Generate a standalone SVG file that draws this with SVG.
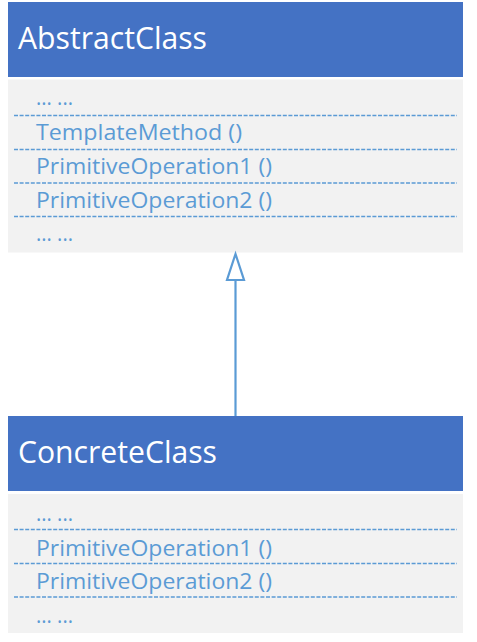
<svg xmlns="http://www.w3.org/2000/svg" width="477" height="642" viewBox="0 0 477 642">
<style>
.hdr{fill:#4472C4}
.body{fill:#F2F2F2}
.title{font-family:"Open Sans","Noto Sans",sans-serif;font-size:30.5px;fill:#FFFFFF}
.item{font-family:"Open Sans","Noto Sans",sans-serif;font-size:21.5px;fill:#5B9BD5}
.sep{stroke:#5B9BD5;stroke-width:1.3;stroke-dasharray:4 1.6;fill:none}
.conn{stroke:#5B9BD5;stroke-width:2.2;fill:none}
</style>
<rect width="477" height="642" fill="#FFFFFF"/>
<g id="AbstractClass">
<rect class="hdr" x="8" y="2" width="455" height="75"/>
<rect class="body" x="8" y="79.5" width="455" height="173"/>
<text class="title" x="18" y="49" textLength="189" lengthAdjust="spacingAndGlyphs">AbstractClass</text>
<text class="item" x="36" y="105" textLength="37" lengthAdjust="spacingAndGlyphs">... ...</text>
<line class="sep" x1="14" y1="115.5" x2="457" y2="115.5"/>
<text class="item" x="36" y="140" textLength="206" lengthAdjust="spacingAndGlyphs">TemplateMethod ()</text>
<line class="sep" x1="14" y1="149.5" x2="457" y2="149.5"/>
<text class="item" x="36" y="174" textLength="236" lengthAdjust="spacingAndGlyphs">PrimitiveOperation1 ()</text>
<line class="sep" x1="14" y1="183" x2="457" y2="183"/>
<text class="item" x="36" y="207.5" textLength="236" lengthAdjust="spacingAndGlyphs">PrimitiveOperation2 ()</text>
<line class="sep" x1="14" y1="216.5" x2="457" y2="216.5"/>
<text class="item" x="36" y="241" textLength="37" lengthAdjust="spacingAndGlyphs">... ...</text>
</g>
<g id="ConcreteClass">
<rect class="hdr" x="8" y="416" width="455" height="75"/>
<rect class="body" x="8" y="494" width="455" height="139"/>
<text class="title" x="18" y="463" textLength="199" lengthAdjust="spacingAndGlyphs">ConcreteClass</text>
<text class="item" x="36" y="520.5" textLength="37" lengthAdjust="spacingAndGlyphs">... ...</text>
<line class="sep" x1="14" y1="529.5" x2="457" y2="529.5"/>
<text class="item" x="36" y="555.5" textLength="236" lengthAdjust="spacingAndGlyphs">PrimitiveOperation1 ()</text>
<line class="sep" x1="14" y1="563.5" x2="457" y2="563.5"/>
<text class="item" x="36" y="589" textLength="236" lengthAdjust="spacingAndGlyphs">PrimitiveOperation2 ()</text>
<line class="sep" x1="14" y1="597" x2="457" y2="597"/>
<text class="item" x="36" y="623" textLength="37" lengthAdjust="spacingAndGlyphs">... ...</text>
</g>
<g id="connectors">
<line class="conn" x1="235.5" y1="416" x2="235.5" y2="280"/>
<polygon class="conn" points="235.5,254 227,280 244,280"/>
</g>
</svg>
